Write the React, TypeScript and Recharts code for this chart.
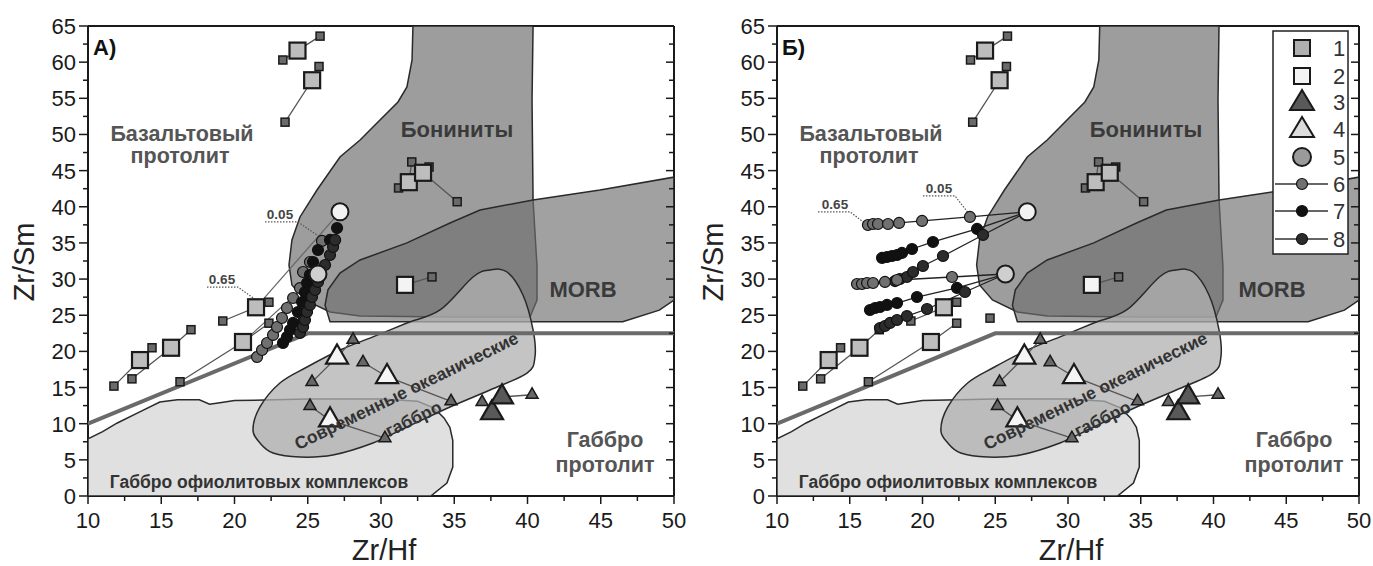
import { Scatter, ScatterChart, XAxis, YAxis } from "recharts";

type Pt = { x: number; y: number; k?: string };

const INK = "#1a1a1a";
const OUTLINE = "#2a2a2a";
const H = 566;

const X_TICKS = [10, 12.5, 15, 17.5, 20, 22.5, 25, 27.5, 30, 32.5, 35, 37.5, 40, 42.5, 45, 47.5, 50];
const Y_TICKS = [0, 2.5, 5, 7.5, 10, 12.5, 15, 17.5, 20, 22.5, 25, 27.5, 30, 32.5, 35, 37.5, 40, 42.5, 45, 47.5, 50, 52.5, 55, 57.5, 60, 62.5, 65];

// fields
const OPHIOLITE_GABBRO: Pt[] = [
  { x: 10, y: 0 }, { x: 10, y: 7.9 }, { x: 11, y: 8.9 }, { x: 12, y: 10.1 }, { x: 13.5, y: 11.6 },
  { x: 14.9, y: 13.0 }, { x: 16.1, y: 13.3 }, { x: 17.6, y: 13.3 }, { x: 18.3, y: 12.7 }, { x: 19, y: 12.9 },
  { x: 20, y: 13.2 }, { x: 25, y: 13.4 }, { x: 30, y: 13.4 }, { x: 32.5, y: 13.1 }, { x: 33.6, y: 12.2 },
  { x: 34.3, y: 10.8 }, { x: 34.7, y: 9.5 }, { x: 34.9, y: 7.7 }, { x: 34.9, y: 4.0 }, { x: 34.5, y: 1.8 },
  { x: 33.4, y: 0 },
];
const OCEANIC_GABBRO: Pt[] = [
  { x: 21.26, y: 9.13 }, { x: 21.74, y: 12.31 }, { x: 23.1, y: 15.63 }, { x: 24.95, y: 17.84 },
  { x: 27.2, y: 20.19 }, { x: 29.45, y: 22.0 }, { x: 31.77, y: 23.93 }, { x: 34.03, y: 25.73 },
  { x: 36.28, y: 30.29 }, { x: 37.44, y: 31.26 }, { x: 38.6, y: 30.98 }, { x: 39.69, y: 27.8 },
  { x: 40.38, y: 22.96 }, { x: 40.51, y: 19.23 }, { x: 39.97, y: 17.0 }, { x: 37.44, y: 14.66 },
  { x: 34.71, y: 12.31 }, { x: 31.77, y: 9.54 }, { x: 29.45, y: 7.33 }, { x: 26.72, y: 5.67 },
  { x: 24.47, y: 5.39 }, { x: 22.63, y: 5.95 }, { x: 21.74, y: 7.33 },
];
const BONINITE: Pt[] = [
  { x: 32.18, y: 65 }, { x: 32.12, y: 60.3 }, { x: 31.77, y: 56.57 }, { x: 31.16, y: 54.5 },
  { x: 29.93, y: 52.0 }, { x: 28.57, y: 49.24 }, { x: 27.2, y: 46.89 }, { x: 25.63, y: 42.32 },
  { x: 24.47, y: 38.59 }, { x: 23.92, y: 35.41 }, { x: 23.72, y: 31.95 }, { x: 23.92, y: 29.18 },
  { x: 24.81, y: 27.11 }, { x: 26.52, y: 25.45 }, { x: 28.57, y: 24.9 }, { x: 34.71, y: 24.76 },
  { x: 40.17, y: 24.76 }, { x: 40.65, y: 27.1 }, { x: 40.65, y: 31.67 }, { x: 40.38, y: 40.94 },
  { x: 40.31, y: 54.77 }, { x: 40.38, y: 65 },
];
const MORB: Pt[] = [
  { x: 26.52, y: 24.1 }, { x: 26.18, y: 26.4 }, { x: 26.38, y: 28.5 }, { x: 27.2, y: 30.84 },
  { x: 28.57, y: 32.64 }, { x: 31.77, y: 35.0 }, { x: 34.71, y: 37.76 }, { x: 36.76, y: 39.56 },
  { x: 40.38, y: 40.94 }, { x: 44.95, y: 42.32 }, { x: 50, y: 44.1 }, { x: 50, y: 27.1 },
  { x: 49.0, y: 25.7 }, { x: 46.5, y: 24.1 },
];
const PROTOLITH_BOUNDARY: Pt[] = [{ x: 10, y: 10 }, { x: 25, y: 22.5 }, { x: 50, y: 22.5 }];

// samples: s = small square, 1/2 = large squares (legend 1, 2)
const SQUARE_GROUPS: Pt[][] = [
  [{ x: 23.45, y: 51.7, k: "s" }, { x: 25.3, y: 57.5, k: "1" }, { x: 25.77, y: 59.4, k: "s" }],
  [{ x: 23.3, y: 60.3, k: "s" }, { x: 24.3, y: 61.6, k: "1" }, { x: 25.84, y: 63.6, k: "s" }],
  [{ x: 31.2, y: 42.6, k: "s" }, { x: 31.9, y: 43.4, k: "1" }, { x: 32.1, y: 46.2, k: "s" }],
  [{ x: 33.28, y: 45.5, k: "s" }, { x: 32.87, y: 44.7, k: "1" }, { x: 35.2, y: 40.7, k: "s" }],
  [{ x: 31.64, y: 29.2, k: "2" }, { x: 33.48, y: 30.3, k: "s" }],
  [{ x: 11.77, y: 15.2, k: "s" }, { x: 13.55, y: 18.8, k: "1" }, { x: 14.37, y: 20.5, k: "s" }],
  [{ x: 13.0, y: 16.2, k: "s" }, { x: 15.67, y: 20.5, k: "1" }, { x: 17.03, y: 23.0, k: "s" }],
  [{ x: 16.28, y: 15.8, k: "s" }, { x: 20.58, y: 21.3, k: "1" }, { x: 22.35, y: 23.9, k: "s" }],
  [{ x: 19.2, y: 24.2, k: "s" }, { x: 21.47, y: 26.1, k: "1" }, { x: 22.35, y: 26.8, k: "s" }],
  [{ x: 24.64, y: 24.6, k: "s" }],
];
// t = small triangle, 3/4 = large triangles
const TRIANGLE_GROUPS: Pt[][] = [
  [{ x: 25.29, y: 15.77, k: "t" }, { x: 27.0, y: 19.2, k: "4" }, { x: 28.09, y: 21.6, k: "t" }],
  [{ x: 28.77, y: 18.5, k: "t" }, { x: 30.41, y: 16.5, k: "4" }, { x: 34.78, y: 13.1, k: "t" }],
  [{ x: 25.15, y: 12.45, k: "t" }, { x: 26.52, y: 10.5, k: "4" }, { x: 30.27, y: 8.0, k: "t" }],
  [{ x: 36.9, y: 13.0, k: "t" }],
  [{ x: 37.58, y: 11.5, k: "3" }],
  [{ x: 38.26, y: 13.7, k: "3" }, { x: 40.31, y: 14.0, k: "t" }],
];
const END_HIGH: Pt = { x: 27.2, y: 39.3 };
const END_LOW: Pt = { x: 25.7, y: 30.7 };

// panel A mixing trends
const LEFT_MIX_6: Pt[] = [
  { x: 21.54, y: 19.22 }, { x: 21.88, y: 20.19 }, { x: 22.22, y: 21.16 }, { x: 22.63, y: 22.27 },
  { x: 22.9, y: 23.37 }, { x: 23.24, y: 24.62 }, { x: 23.58, y: 26.0 }, { x: 24.0, y: 27.38 },
  { x: 24.47, y: 28.76 }, { x: 24.68, y: 30.98 }, { x: 25.15, y: 32.36 }, { x: 25.97, y: 35.27 },
];
const LEFT_MIX_7: Pt[] = [
  { x: 23.31, y: 21.16 }, { x: 23.58, y: 21.99 }, { x: 23.79, y: 22.96 }, { x: 24.0, y: 23.93 },
  { x: 24.33, y: 25.45 }, { x: 24.61, y: 26.83 }, { x: 24.81, y: 28.21 }, { x: 24.95, y: 29.46 },
  { x: 25.15, y: 30.6 }, { x: 25.36, y: 32.36 }, { x: 25.7, y: 34.02 }, { x: 26.52, y: 35.41 },
  { x: 27.0, y: 37.06 },
];
const LEFT_MIX_8: Pt[] = [
  { x: 24.47, y: 22.54 }, { x: 24.68, y: 23.37 }, { x: 24.81, y: 24.34 }, { x: 24.95, y: 25.45 },
  { x: 25.15, y: 26.42 }, { x: 25.29, y: 27.52 }, { x: 25.5, y: 28.49 }, { x: 25.7, y: 29.6 },
  { x: 25.84, y: 30.56 }, { x: 26.18, y: 31.95 }, { x: 26.52, y: 33.33 }, { x: 26.73, y: 34.44 },
  { x: 26.87, y: 35.41 },
];
const LEFT_MIX_LINES: Pt[][] = [
  [{ x: 20.58, y: 21.3 }, { x: 25.7, y: 30.7 }],
  [{ x: 21.47, y: 26.1 }, { x: 27.2, y: 39.3 }],
];

// panel Б mixing trends
const RIGHT_MIX_6A: Pt[] = [
  { x: 16.25, y: 37.48 }, { x: 16.6, y: 37.62 }, { x: 16.94, y: 37.62 }, { x: 17.63, y: 37.62 },
  { x: 18.39, y: 37.76 }, { x: 19.97, y: 38.04 }, { x: 23.26, y: 38.59 },
];
const RIGHT_MIX_7A: Pt[] = [
  { x: 17.22, y: 32.92 }, { x: 17.56, y: 33.05 }, { x: 17.9, y: 33.19 }, { x: 18.25, y: 33.33 },
  { x: 18.59, y: 33.61 }, { x: 19.28, y: 34.16 }, { x: 20.72, y: 35.13 }, { x: 23.75, y: 36.93 },
];
const RIGHT_MIX_8A: Pt[] = [
  { x: 18.11, y: 29.73 }, { x: 18.45, y: 30.01 }, { x: 18.93, y: 30.29 }, { x: 19.35, y: 30.98 },
  { x: 20.03, y: 31.81 }, { x: 21.41, y: 33.19 }, { x: 24.16, y: 36.1 },
];
const RIGHT_MIX_6B: Pt[] = [
  { x: 15.5, y: 29.32 }, { x: 15.84, y: 29.32 }, { x: 16.19, y: 29.46 }, { x: 16.6, y: 29.46 },
  { x: 17.42, y: 29.6 }, { x: 18.25, y: 29.87 }, { x: 22.03, y: 30.29 },
];
const RIGHT_MIX_7B: Pt[] = [
  { x: 16.39, y: 25.72 }, { x: 16.74, y: 26.0 }, { x: 17.08, y: 26.14 }, { x: 17.56, y: 26.42 },
  { x: 18.25, y: 26.69 }, { x: 19.62, y: 27.52 }, { x: 22.37, y: 28.77 },
];
const RIGHT_MIX_8B: Pt[] = [
  { x: 17.08, y: 23.23 }, { x: 17.42, y: 23.51 }, { x: 17.77, y: 23.93 }, { x: 18.25, y: 24.34 },
  { x: 18.93, y: 24.89 }, { x: 20.31, y: 25.86 }, { x: 22.92, y: 28.21 },
];

// degree-of-melting leaders
const LEFT_LEADERS: Pt[][] = [
  [{ x: 22.08, y: 37.9 }, { x: 24.33, y: 37.9 }, { x: 25.84, y: 35.8 }],
  [{ x: 18.12, y: 28.9 }, { x: 20.24, y: 28.9 }, { x: 21.74, y: 26.7 }],
];
const RIGHT_LEADERS: Pt[][] = [
  [{ x: 12.82, y: 39.3 }, { x: 15.02, y: 39.3 }, { x: 16.12, y: 37.6 }],
  [{ x: 20.03, y: 41.5 }, { x: 22.23, y: 41.5 }, { x: 23.2, y: 39.0 }],
];
const LEGEND_ITEMS = ["1", "2", "3", "4", "5", "6", "7", "8"];

const MIX_FILL: Record<string, string> = { "6": "#707070", "7": "#111111", "8": "#2c2c2c" };

function closedPath(pts: { x: number; y: number }[], smooth: boolean) {
  if (!pts || !pts.length) return "";
  if (!smooth) return "M" + pts.map((p) => `${p.x},${p.y}`).join("L") + "Z";
  const n = pts.length;
  let d = `M${pts[0].x},${pts[0].y}`;
  for (let i = 0; i < n; i++) {
    const p0 = pts[(i - 1 + n) % n];
    const p1 = pts[i];
    const p2 = pts[(i + 1) % n];
    const p3 = pts[(i + 2) % n];
    d += `C${p1.x + (p2.x - p0.x) / 6},${p1.y + (p2.y - p0.y) / 6} ${p2.x - (p3.x - p1.x) / 6},${p2.y - (p3.y - p1.y) / 6} ${p2.x},${p2.y}`;
  }
  return d + "Z";
}

const region = (fill: string, opacity: number, smooth: boolean) => (p: any) => (
  <path d={closedPath(p.points, smooth)} fill={fill} fillOpacity={opacity} stroke={OUTLINE} strokeWidth={1.5} />
);

const noShape = () => <g />;

function sampleShape(p: any) {
  const k = p.payload?.k;
  const { cx, cy } = p;
  if (k === "s") return <rect x={cx - 4} y={cy - 4} width={8} height={8} fill="#6a6a6a" stroke={INK} strokeWidth={1.5} />;
  if (k === "1" || k === "2") {
    return <rect x={cx - 8} y={cy - 8} width={16} height={16} fill={k === "1" ? "#bdbdbd" : "#f3f3f3"} stroke={INK} strokeWidth={2.2} />;
  }
  const big = k === "3" || k === "4";
  const s = big ? 22 : 12;
  const h = s * 0.87;
  const fill = k === "4" ? "#f5f5f5" : k === "3" ? "#595959" : "#686868";
  return (
    <polygon
      points={`${cx},${cy - (h * 2) / 3} ${cx - s / 2},${cy + h / 3} ${cx + s / 2},${cy + h / 3}`}
      fill={fill}
      stroke={INK}
      strokeWidth={big ? 2.2 : 1.5}
      strokeLinejoin="miter"
    />
  );
}

const mixDot = (kind: string) => (p: any) => (
  <circle cx={p.cx} cy={p.cy} r={5.5} fill={MIX_FILL[kind]} stroke="#111" strokeWidth={1.2} />
);
const endDot = (fill: string) => (p: any) => (
  <circle cx={p.cx} cy={p.cy} r={8.5} fill={fill} stroke={INK} strokeWidth={2} />
);

function BottomTick(p: any) {
  const v = p.payload.value;
  const major = v % 5 === 0;
  return (
    <g>
      <line x1={p.x} x2={p.x} y1={p.y} y2={p.y + (major ? 8 : 5)} stroke={INK} strokeWidth={1.5} />
      {major && (
        <text x={p.x} y={p.y + 32} textAnchor="middle" fontSize={22} fill={INK}>
          {v}
        </text>
      )}
    </g>
  );
}
function TopTick(p: any) {
  const major = p.payload.value % 5 === 0;
  return <line x1={p.x} x2={p.x} y1={p.y} y2={p.y + (major ? 8 : 5)} stroke={INK} strokeWidth={1.5} />;
}
function LeftTick(p: any) {
  const v = p.payload.value;
  const major = v % 5 === 0;
  return (
    <g>
      <line x1={p.x - (major ? 9 : 5)} x2={p.x} y1={p.y} y2={p.y} stroke={INK} strokeWidth={1.5} />
      {major && (
        <text x={p.x - 12} y={p.y + 8} textAnchor="end" fontSize={22} fill={INK}>
          {v}
        </text>
      )}
    </g>
  );
}
function RightTick(p: any) {
  const major = p.payload.value % 5 === 0;
  return <line x1={p.x - (major ? 8 : 5)} x2={p.x} y1={p.y} y2={p.y} stroke={INK} strokeWidth={1.5} />;
}

type Mix = { data: Pt[]; kind: string; end?: Pt };

type PanelProps = {
  width: number;
  right: number;
  letter: string;
  mixes: Mix[];
  mixLines: Pt[][];
  leaders: Pt[][];
  leaderText: { t: string; x: number; y: number }[];
  legend?: boolean;
};

function Legend8() {
  const x0 = 584;
  const sx = 613;
  const rows = [48, 76, 102, 129, 157, 184, 211, 239];
  return (
    <g>
      <rect x={x0} y={31} width={75} height={223} fill="#fff" stroke="#222" strokeWidth={1.5} />
      {LEGEND_ITEMS.map((it, i) => {
        const y = rows[i];
        let sym: any = null;
        if (it === "1" || it === "2")
          sym = <rect x={sx - 8} y={y - 8} width={16} height={16} fill={it === "1" ? "#b0b0b0" : "#f3f3f3"} stroke={INK} strokeWidth={2} />;
        else if (it === "3" || it === "4")
          sym = <polygon points={`${sx},${y - 12} ${sx - 12},${y + 8} ${sx + 12},${y + 8}`} fill={it === "3" ? "#595959" : "#dcdcdc"} stroke={INK} strokeWidth={2} />;
        else if (it === "5") sym = <circle cx={sx} cy={y} r={9} fill="#9a9a9a" stroke={INK} strokeWidth={2} />;
        else
          sym = (
            <g>
              <line x1={x0 + 2} x2={x0 + 55} y1={y} y2={y} stroke="#333" strokeWidth={1.5} />
              <circle cx={sx} cy={y} r={5.5} fill={MIX_FILL[it]} stroke="#111" strokeWidth={1.2} />
            </g>
          );
        return (
          <g key={it}>
            {sym}
            <text x={650} y={y + 8} textAnchor="middle" fontSize={22} fill="#333">
              {it}
            </text>
          </g>
        );
      })}
    </g>
  );
}

function Panel({ width, right, letter, mixes, mixLines, leaders, leaderText, legend }: PanelProps) {
  const plotW = width - 88 - right - 2;
  const lbl = { fontWeight: 700, textAnchor: "middle" as const };
  return (
    <div style={{ position: "relative", width, height: H }}>
      <ScatterChart width={width} height={H} margin={{ top: 24, right, bottom: 30, left: 28 }}>
        <XAxis
          type="number"
          dataKey="x"
          domain={[10, 50]}
          ticks={X_TICKS}
          interval={0}
          allowDataOverflow
          tickSize={0}
          tickMargin={0}
          tickLine={false}
          tick={(p: any) => <BottomTick {...p} />}
          height={40}
          axisLine={{ stroke: INK, strokeWidth: 2 }}
        />
        <XAxis
          xAxisId="top"
          orientation="top"
          type="number"
          domain={[10, 50]}
          ticks={X_TICKS}
          interval={0}
          allowDataOverflow
          tickSize={0}
          tickMargin={0}
          tickLine={false}
          tick={(p: any) => <TopTick {...p} />}
          height={2}
          axisLine={{ stroke: INK, strokeWidth: 2 }}
        />
        <YAxis
          type="number"
          dataKey="y"
          domain={[0, 65]}
          ticks={Y_TICKS}
          interval={0}
          allowDataOverflow
          tickSize={0}
          tickMargin={0}
          tickLine={false}
          tick={(p: any) => <LeftTick {...p} />}
          width={60}
          axisLine={{ stroke: INK, strokeWidth: 2 }}
        />
        <YAxis
          yAxisId="right"
          orientation="right"
          type="number"
          domain={[0, 65]}
          ticks={Y_TICKS}
          interval={0}
          allowDataOverflow
          tickSize={0}
          tickMargin={0}
          tickLine={false}
          tick={(p: any) => <RightTick {...p} />}
          width={2}
          axisLine={{ stroke: INK, strokeWidth: 2 }}
        />
        <Scatter data={OPHIOLITE_GABBRO} line={region("#e0e0e0", 1, false)} shape={noShape} isAnimationActive={false} />
        <Scatter data={BONINITE} line={region("#9d9d9d", 1, false)} shape={noShape} isAnimationActive={false} />
        <Scatter data={MORB} line={region("#6e6e6e", 0.65, false)} shape={noShape} isAnimationActive={false} />
        <Scatter data={OCEANIC_GABBRO} line={region("#b0b0b0", 0.75, true)} shape={noShape} isAnimationActive={false} />
        <Scatter
          data={PROTOLITH_BOUNDARY}
          line={{ stroke: "#6a6a6a", strokeWidth: 4 }}
          shape={noShape}
          isAnimationActive={false}
        />
        {leaders.map((d, i) => (
          <Scatter
            key={`ld${i}`}
            data={d}
            line={{ stroke: "#555", strokeWidth: 1.2, strokeDasharray: "1.5 1.5" }}
            shape={noShape}
            isAnimationActive={false}
          />
        ))}
        {mixLines.map((d, i) => (
          <Scatter key={`ml${i}`} data={d} line={{ stroke: "#666", strokeWidth: 1.2 }} shape={noShape} isAnimationActive={false} />
        ))}
        {SQUARE_GROUPS.map((g, i) => (
          <Scatter key={`sg${i}`} data={g} line={{ stroke: "#555", strokeWidth: 1.3 }} shape={noShape} isAnimationActive={false} />
        ))}
        {TRIANGLE_GROUPS.map((g, i) => (
          <Scatter key={`tg${i}`} data={g} line={{ stroke: "#555", strokeWidth: 1.3 }} shape={noShape} isAnimationActive={false} />
        ))}
        {mixes.map((m, i) =>
          m.end ? (
            <Scatter
              key={`mxl${i}`}
              data={[...m.data, m.end]}
              line={{ stroke: "#222", strokeWidth: 1.3 }}
              shape={noShape}
              isAnimationActive={false}
            />
          ) : null
        )}
        {SQUARE_GROUPS.map((g, i) => (
          <Scatter key={`sp${i}`} data={g} shape={sampleShape} isAnimationActive={false} />
        ))}
        {TRIANGLE_GROUPS.map((g, i) => (
          <Scatter key={`tp${i}`} data={g} shape={sampleShape} isAnimationActive={false} />
        ))}
        {mixes.map((m, i) => (
          <Scatter key={`mx${i}`} data={m.data} shape={mixDot(m.kind)} isAnimationActive={false} />
        ))}
        <Scatter data={[END_HIGH]} shape={endDot("#f2f2f2")} isAnimationActive={false} />
        <Scatter data={[END_LOW]} shape={endDot("#cfcfcf")} isAnimationActive={false} />
      </ScatterChart>
      <svg width={width} height={H} style={{ position: "absolute", left: 0, top: 0, pointerEvents: "none" }}>
        <text x={93} y={55} fontSize={22} fontWeight={700} fill="#111">
          {letter}
        </text>
        <g fill="#555" fontSize={21.5} {...lbl}>
          <text x={182} y={141}>Базальтовый</text>
          <text x={180} y={163}>протолит</text>
          <text x={605} y={447}>Габбро</text>
          <text x={605} y={472}>протолит</text>
        </g>
        <g fill="#3a3a3a" fontSize={22} {...lbl}>
          <text x={457} y={137}>Бониниты</text>
          <text x={583} y={297}>MORB</text>
        </g>
        <text x={259} y={488} fill="#333" fontSize={17.5} {...lbl}>
          Габбро офиолитовых комплексов
        </text>
        <g fill="#333" fontSize={17.5} {...lbl} dominantBaseline="middle">
          <text transform="translate(407 392) rotate(-26)">Современные океанические</text>
          <text transform="translate(414 420) rotate(-26)">габбро</text>
        </g>
        {leaderText.map((t) => (
          <text key={t.t} x={t.x} y={t.y} fontSize={13.5} fill="#444" {...lbl}>
            {t.t}
          </text>
        ))}
        <text x={88 + plotW / 2 + 3} y={560} fontSize={29} fill="#222" textAnchor="middle">
          Zr/Hf
        </text>
        <text transform="translate(34 262) rotate(-90)" fontSize={29} fill="#222" textAnchor="middle">
          Zr/Sm
        </text>
        {legend && <Legend8 />}
      </svg>
    </div>
  );
}

export default function App() {
  return (
    <div
      style={{
        position: "absolute",
        left: 0,
        top: 0,
        width: 1373,
        height: H,
        background: "#fff",
        display: "flex",
        fontFamily: "'Liberation Sans', Arial, sans-serif",
      }}
    >
      <Panel
        width={689}
        right={13}
        letter="А)"
        mixes={[
          { data: LEFT_MIX_6, kind: "6" },
          { data: LEFT_MIX_7, kind: "7" },
          { data: LEFT_MIX_8, kind: "8" },
        ]}
        mixLines={LEFT_MIX_LINES}
        leaders={LEFT_LEADERS}
        leaderText={[
          { t: "0.05", x: 280, y: 219 },
          { t: "0.65", x: 222, y: 284 },
        ]}
      />
      <Panel
        width={684}
        right={12}
        letter="Б)"
        mixes={[
          { data: RIGHT_MIX_6A, kind: "6", end: END_HIGH },
          { data: RIGHT_MIX_7A, kind: "7", end: END_HIGH },
          { data: RIGHT_MIX_8A, kind: "8", end: END_HIGH },
          { data: RIGHT_MIX_6B, kind: "6", end: END_LOW },
          { data: RIGHT_MIX_7B, kind: "7", end: END_LOW },
          { data: RIGHT_MIX_8B, kind: "8", end: END_LOW },
        ]}
        mixLines={[]}
        leaders={RIGHT_LEADERS}
        leaderText={[
          { t: "0.65", x: 146, y: 209 },
          { t: "0.05", x: 250, y: 193 },
        ]}
        legend
      />
    </div>
  );
}
